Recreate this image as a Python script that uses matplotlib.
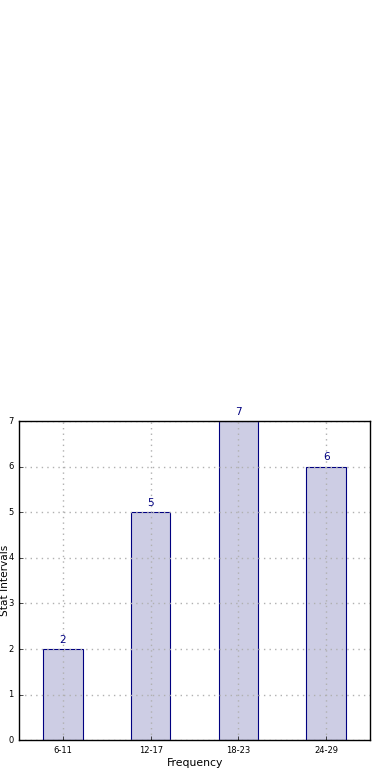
import matplotlib
matplotlib.use("Agg")
import matplotlib.pyplot as plt
import numpy as np

# data
intervals = ["6-11", "12-17", "18-23", "24-29"]
counts = [2, 5, 7, 6]

plt.style.use("classic")
fig = plt.figure(figsize=(3.9, 7.8), dpi=100, facecolor="white")
ax = fig.add_axes([0.049, 0.051, 0.9, 0.409])

x = np.arange(len(intervals))
bars = ax.bar(x, counts, width=0.45, align="center",
              color="#cdcde4", edgecolor="#000080", linewidth=0.8)

for b, c in zip(bars, counts):
    ax.text(b.get_x() + b.get_width() / 2, c + 0.1, str(c),
            ha="center", va="bottom", color="#000080", fontsize=7.5)

ax.set_xlim(-0.5, len(intervals) - 0.5)
ax.set_ylim(0, 7)
ax.set_xticks(x)
ax.set_xticklabels(intervals)
ax.set_yticks(range(0, 8))
ax.tick_params(labelsize=6, direction="in", length=3, top=False, right=False)
ax.grid(True, color="#b0b0b0", linestyle=":", linewidth=1.0)
ax.set_axisbelow(False)
for s in ax.spines.values():
    s.set_zorder(5)

ax.set_xlabel("Frequency", fontsize=7.8, labelpad=2)
ax.set_ylabel("Stat Intervals", fontsize=7.6)
ax.yaxis.set_label_coords(-0.027, 0.5)

fig.savefig("out.png", dpi=100, facecolor="white")
